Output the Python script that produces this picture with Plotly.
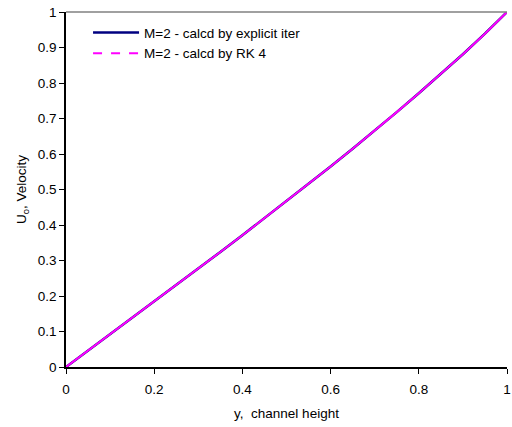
import plotly.graph_objects as go

# channel height positions and computed velocity profiles (M = 2)
y_height = [0.0, 0.05, 0.1, 0.15, 0.2, 0.25, 0.3, 0.35, 0.4, 0.45, 0.5,
            0.55, 0.6, 0.65, 0.7, 0.75, 0.8, 0.85, 0.9, 0.95, 1.0]
u_explicit = [0.0, 0.046, 0.092, 0.138, 0.184, 0.230, 0.277, 0.324, 0.371, 0.419, 0.467,
              0.516, 0.565, 0.615, 0.666, 0.718, 0.771, 0.825, 0.881, 0.939, 1.0]
u_rk4 = [0.0, 0.046, 0.092, 0.138, 0.184, 0.230, 0.277, 0.324, 0.371, 0.419, 0.467,
         0.516, 0.565, 0.615, 0.666, 0.718, 0.771, 0.825, 0.881, 0.939, 1.0]

name_explicit = "M=2 - calcd by explicit iter"
name_rk4 = "M=2 - calcd by RK 4"

x_ticks = [0, 0.2, 0.4, 0.6, 0.8, 1]
x_tick_text = ["0", "0.2", "0.4", "0.6", "0.8", "1"]
y_ticks = [0, 0.1, 0.2, 0.3, 0.4, 0.5, 0.6, 0.7, 0.8, 0.9, 1]
y_tick_text = ["0", "0.1", "0.2", "0.3", "0.4", "0.5", "0.6", "0.7", "0.8", "0.9", "1"]

fig = go.Figure()
fig.add_trace(go.Scatter(
    x=y_height, y=u_explicit, mode="lines", name=name_explicit,
    line=dict(color="#000080", width=2.5),
))
# RK4 curve: dense points make the dashed series read as solid along the curve
fig.add_trace(go.Scatter(
    x=y_height, y=u_rk4, mode="lines", name=name_rk4, showlegend=False,
    legendgroup="rk4", line=dict(color="#FF00FF", width=2),
))
fig.add_trace(go.Scatter(
    x=[None], y=[None], mode="lines", name=name_rk4, legendgroup="rk4",
    line=dict(color="#FF00FF", width=2, dash="dash"),
))

font = "Liberation Sans, Arial, sans-serif"
fig.update_layout(
    width=512, height=427,
    margin=dict(l=66, r=1, t=12, b=60),
    paper_bgcolor="white", plot_bgcolor="white",
    font=dict(family=font, size=13.5, color="black"),
    showlegend=True,
    legend=dict(
        x=0.05, y=0.985, xanchor="left", yanchor="top",
        bgcolor="rgba(0,0,0,0)", font=dict(size=13.5, family=font),
        tracegroupgap=0, itemwidth=46,
    ),
    xaxis=dict(
        range=[0, 1], tickvals=x_ticks, ticktext=x_tick_text,
        showgrid=False, zeroline=False, showline=True, linecolor="black",
        linewidth=1.5, ticks="outside", ticklen=5, tickcolor="black",
        ticklabelstandoff=4, ticklabeloverflow="allow",
        title=dict(text="y,  channel height", font=dict(size=13.5), standoff=13),
    ),
    yaxis=dict(
        range=[0, 1], tickvals=y_ticks, ticktext=y_tick_text,
        showgrid=False, zeroline=False, showline=True, linecolor="black",
        linewidth=1.5, ticks="outside", ticklen=5, tickcolor="black",
        ticklabeloverflow="allow",
        title=dict(text="U<sub>o</sub>, Velocity", font=dict(size=13.5), standoff=8),
    ),
    shapes=[dict(type="line", xref="paper", yref="paper", x0=0, x1=1, y0=1, y1=1,
                 line=dict(color="#808080", width=1.5))],
)

fig.write_html("out.html")
